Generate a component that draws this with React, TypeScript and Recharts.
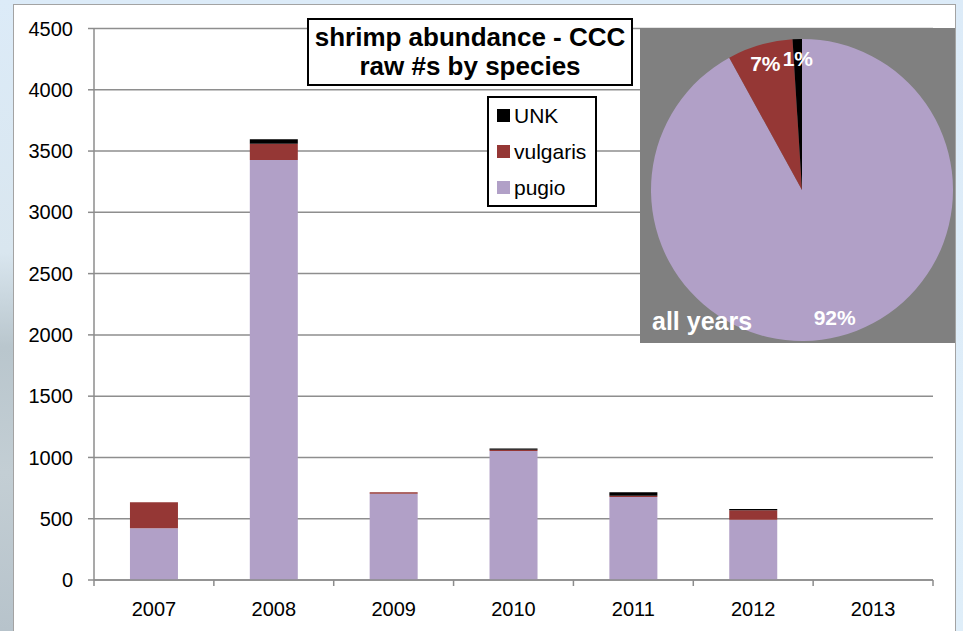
import React from 'react';
import { BarChart, Bar, XAxis, YAxis, CartesianGrid, PieChart, Pie, Cell } from 'recharts';

const years = ['2007', '2008', '2009', '2010', '2011', '2012', '2013'];
const pugio = [422, 3426, 704, 1052, 677, 492, 0];
const vulgaris = [212, 133, 11, 11, 11, 77, 0];
const unk = [0, 38, 0, 11, 27, 10, 0];
const yTicks = [0, 500, 1000, 1500, 2000, 2500, 3000, 3500, 4000, 4500];
const legendOrder = ['UNK', 'vulgaris', 'pugio'];

const pieNames = ['pugio', 'vulgaris', 'UNK'];
const pieShares = [92, 7, 1];

const COLORS: Record<string, string> = { pugio: '#b1a0c7', vulgaris: '#953735', UNK: '#000000' };
const FONT = '"Liberation Sans", Arial, sans-serif';

const data = years.map((y, i) => ({ year: y, pugio: pugio[i], vulgaris: vulgaris[i], UNK: unk[i] }));
const pieData = pieNames.map((n, i) => ({ name: n, value: pieShares[i] }));

const X_TICK_SIZE = 6;
const X_TICK_MARGIN = 16;

const XTick = (props: any) => {
  const { x, y, payload, index, width } = props;
  const band = width / years.length;
  const axisY = y - X_TICK_SIZE - X_TICK_MARGIN;
  const left = x - band / 2;
  const right = x + band / 2;
  return (
    <g>
      <line x1={left} y1={axisY} x2={left} y2={axisY + X_TICK_SIZE} stroke="#8c8c8c" strokeWidth={1.5} />
      {index === years.length - 1 && (
        <line x1={right} y1={axisY} x2={right} y2={axisY + X_TICK_SIZE} stroke="#8c8c8c" strokeWidth={1.5} />
      )}
      <text x={x} y={y} dy="0.71em" textAnchor="middle" fontSize={20} fontFamily={FONT} fill="#000">
        {payload.value}
      </text>
    </g>
  );
};

const RADIAN = Math.PI / 180;
const renderPieLabel = (props: any) => {
  const { cx, cy, midAngle, outerRadius, value } = props;
  const r = outerRadius * 0.87;
  const x = cx + r * Math.cos(-midAngle * RADIAN);
  const y = cy + r * Math.sin(-midAngle * RADIAN);
  return (
    <text x={x} y={y} textAnchor="middle" dominantBaseline="central" fill="#fff" fontFamily={FONT} fontWeight="bold" fontSize={21}>
      {`${value}%`}
    </text>
  );
};

export default function App() {
  return (
    <div
      style={{
        position: 'fixed',
        left: 0,
        top: 0,
        width: 963,
        height: 631,
        overflow: 'hidden',
        background: 'linear-gradient(180deg, #dcebf8 0%, #dfeef9 100%)',
      }}
    >
      <div
        style={{
          position: 'absolute',
          left: 0,
          top: 0,
          width: 14,
          height: 631,
          background: 'linear-gradient(180deg, #dcebf8 0%, #d9e6ef 40%, #b9c6cd 55%, #c3ced4 75%, #b7c3cb 100%)',
        }}
      />
      <div
        style={{
          position: 'absolute',
          left: 13,
          top: 4,
          width: 941,
          height: 640,
          background: '#fff',
          border: '1.5px solid #a3a3a3',
        }}
      />
      <div style={{ position: 'absolute', left: 0, top: 0 }}>
        <BarChart
          width={963}
          height={631}
          data={data}
          margin={{ top: 28.5, right: 30, left: 14, bottom: 0 }}
          barCategoryGap="30%"
        >
          <CartesianGrid vertical={false} stroke="#8e8e8e" strokeWidth={1.5} />
          <XAxis
            dataKey="year"
            height={51}
            axisLine={{ stroke: '#8c8c8c', strokeWidth: 1.5 }}
            tickLine={false}
            tickSize={X_TICK_SIZE}
            tickMargin={X_TICK_MARGIN}
            tick={<XTick />}
            interval={0}
          />
          <YAxis
            width={80}
            domain={[0, 4500]}
            ticks={yTicks}
            interval={0}
            axisLine={{ stroke: '#8c8c8c', strokeWidth: 1.5 }}
            tickLine={{ stroke: '#8c8c8c', strokeWidth: 1.5 }}
            tickSize={6}
            tickMargin={15}
            tick={{ fontSize: 20, fontFamily: FONT, fill: '#000' }}
          />
          <Bar dataKey="pugio" stackId="a" fill={COLORS.pugio} isAnimationActive={false} />
          <Bar dataKey="vulgaris" stackId="a" fill={COLORS.vulgaris} isAnimationActive={false} />
          <Bar dataKey="UNK" stackId="a" fill={COLORS.UNK} isAnimationActive={false} />
        </BarChart>
      </div>
      <div
        style={{
          position: 'absolute',
          left: 487,
          top: 96,
          width: 106,
          height: 107,
          border: '2px solid #000',
          background: '#fff',
          display: 'flex',
          flexDirection: 'column',
          justifyContent: 'space-around',
          paddingTop: 0,
        }}
      >
        {legendOrder.map((k) => (
          <div key={k} style={{ display: 'flex', alignItems: 'center', height: 32, paddingLeft: 8 }}>
            <span style={{ width: 13, height: 13, background: COLORS[k], display: 'inline-block', marginRight: 4 }} />
            <span style={{ fontFamily: FONT, fontSize: 21, color: '#000', lineHeight: '21px' }}>{k}</span>
          </div>
        ))}
      </div>
      <div
        style={{
          position: 'absolute',
          left: 307,
          top: 18,
          width: 322,
          height: 64,
          border: '2px solid #000',
          background: '#fff',
          display: 'flex',
          flexDirection: 'column',
          alignItems: 'center',
          justifyContent: 'center',
          fontFamily: FONT,
          fontWeight: 'bold',
          fontSize: 26,
          lineHeight: '29px',
          color: '#000',
          whiteSpace: 'nowrap',
        }}
      >
        <div>shrimp abundance - CCC</div>
        <div>raw #s by species</div>
      </div>
      <div style={{ position: 'absolute', left: 640, top: 28, width: 315, height: 315, background: '#808080' }}>
        <PieChart width={315} height={315}>
          <Pie
            data={pieData}
            dataKey="value"
            cx={157}
            cy={157}
            outerRadius={151}
            startAngle={90}
            endAngle={-270}
            stroke="none"
            label={renderPieLabel}
            labelLine={false}
            isAnimationActive={false}
          >
            {pieData.map((d) => (
              <Cell key={d.name} fill={COLORS[d.name]} />
            ))}
          </Pie>
        </PieChart>
        <div
          style={{
            position: 'absolute',
            left: 12,
            top: 278,
            fontFamily: FONT,
            fontWeight: 'bold',
            fontSize: 25,
            color: '#fff',
            lineHeight: '30px',
          }}
        >
          all years
        </div>
      </div>
    </div>
  );
}
